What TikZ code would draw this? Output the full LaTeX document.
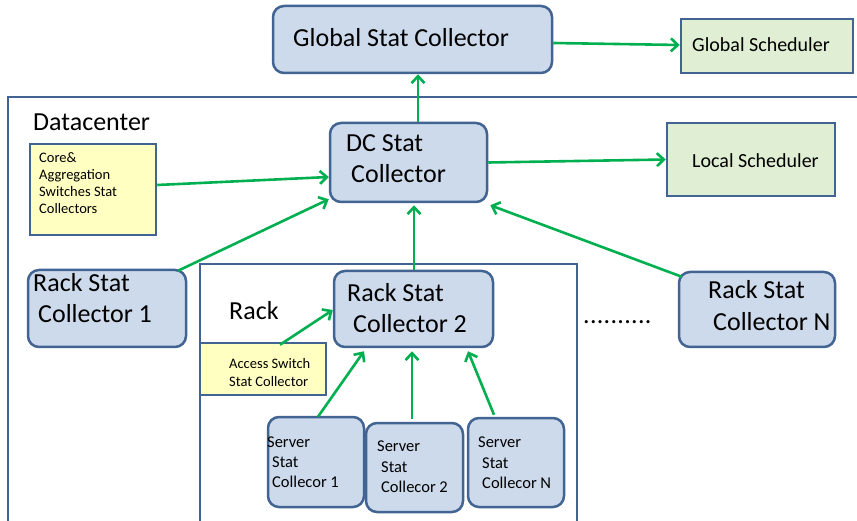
\documentclass[tikz,border=0pt]{standalone}
\usepackage{fontspec}
\setmainfont{Carlito}
\usetikzlibrary{arrows.meta,calc}
\definecolor{bfill}{RGB}{205,218,235}
\definecolor{bline}{RGB}{66,100,146}
\definecolor{gfill}{RGB}{224,238,212}
\definecolor{yfill}{RGB}{255,255,194}
\definecolor{arrg}{RGB}{0,176,80}
\begin{document}
\begin{tikzpicture}[x=1pt,y=-1pt,
  bluebox/.style={draw=bline,line width=2.5pt,fill=bfill,rounded corners=11pt,inner sep=0pt},
  greenbox/.style={draw=bline,line width=2.5pt,fill=gfill,inner sep=0pt},
  yelbox/.style={draw=bline,line width=2.5pt,fill=yfill,inner sep=0pt},
  frameline/.style={draw=bline,line width=2.5pt},
  arr/.style={draw=arrg,line width=2.6pt,-{Straight Barb[length=7pt,width=13pt,line width=2.6pt]}},
  big/.style={anchor=base west,inner sep=0pt,font=\fontsize{26}{30}\selectfont},
  mid/.style={anchor=base west,inner sep=0pt,font=\fontsize{20}{24}\selectfont},
  srv/.style={anchor=base west,inner sep=0pt,font=\fontsize{16.5}{20}\selectfont},
  small/.style={anchor=base west,inner sep=0pt,font=\fontsize{14.5}{17}\selectfont}]
\useasboundingbox (0,0) rectangle (857,521);
\fill[white] (0,0) rectangle (857,521);
% frames
\draw[frameline] (857,97) -- (8,97) -- (8,523);
\draw[frameline] (200,523) -- (200,264) -- (577,264) -- (577,523);
% boxes
\node[bluebox,minimum width=279,minimum height=67] (gsc) at (412.5,39.5) {};
\node[greenbox,minimum width=172,minimum height=54] (gs) at (767,46) {};
\node[yelbox,minimum width=126,minimum height=91] (core) at (93,189.5) {};
\node[bluebox,minimum width=157,minimum height=79] (dc) at (408.5,162.5) {};
\node[greenbox,minimum width=168,minimum height=73] (ls) at (751,159.5) {};
\node[bluebox,minimum width=158,minimum height=77] (r1) at (107,308.5) {};
\node[bluebox,minimum width=159,minimum height=76] (r2) at (413.5,309) {};
\node[bluebox,minimum width=156,minimum height=75] (rn) at (757,309.5) {};
\node[yelbox,minimum width=126,minimum height=52] (acc) at (263,369) {};
\node[bluebox,minimum width=96,minimum height=90] (s1) at (316,462) {};
\node[bluebox,minimum width=97,minimum height=89] (s2) at (414.5,467.5) {};
\node[bluebox,minimum width=96,minimum height=89] (sn) at (516,462.5) {};
% texts
\node[big] (tgsc) at (293,47) {Global Stat Collector};
\node[mid] (tgs) at (692,52) {Global Scheduler};
\node[mid] (tls) at (692,168) {Local Scheduler};
\node[big] (tdc) at (33,131) {Datacenter};
\node[small] (tc1) at (39,163) {Core\&};
\node[small] (tc2) at (39,180) {Aggregation};
\node[small] (tc3) at (39,197) {Switches Stat};
\node[small] (tc4) at (39,214) {Collectors};
\node[big] (tdc1) at (346,152) {DC Stat};
\node[big] (tdc2) at (351,183) {Collector};
\node[big] (tr11) at (33,292) {Rack Stat};
\node[big] (tr12) at (38,323) {Collector 1};
\node[big] (tr21) at (347,302) {Rack Stat};
\node[big] (tr22) at (353,333) {Collector 2};
\node[big] (trn1) at (708,299) {Rack Stat};
\node[big] (trn2) at (713,331) {Collector N};
\node[big] (track) at (229,320) {Rack};
\node[small] (ta1) at (229,369) {Access Switch};
\node[small] (ta2) at (229,386) {Stat Collector};
\node[big] (tdots) at (583,324) {.\hspace{0.3pt}.\hspace{0.3pt}.\hspace{0.3pt}.\hspace{0.3pt}.\hspace{0.3pt}.\hspace{0.3pt}.\hspace{0.3pt}.\hspace{0.3pt}.\hspace{0.3pt}.};
\node[srv] (ts11) at (267,447) {Server};
\node[srv] (ts12) at (272,467) {Stat};
\node[srv] (ts13) at (272,487) {Collecor 1};
\node[srv] (ts21) at (377,451) {Server};
\node[srv] (ts22) at (381,472) {Stat};
\node[srv] (ts23) at (381,492) {Collecor 2};
\node[srv] (tsn1) at (478,447) {Server};
\node[srv] (tsn2) at (482,468) {Stat};
\node[srv] (tsn3) at (482,488) {Collecor N};
% arrows
\draw[arr] ([yshift=-3.5pt]gsc.east) -- ([yshift=1pt]gs.west);
\draw[arr] ([xshift=9.5pt]dc.north) -- ([xshift=5.5pt]gsc.south);
\draw[arr] ([yshift=4.5pt]core.east) -- ([yshift=-14.5pt]dc.west);
\draw[arr] (dc.east) -- (ls.west);
\draw[arr] ([xshift=71pt,yshift=-2pt]r1.north) -- ([yshift=4pt]dc.south west);
\draw[arr] ([xshift=0.5pt]r2.north) -- ([xshift=5.5pt,yshift=-2pt]dc.south);
\draw[arr] ([xshift=4pt,yshift=-6pt]rn.north west) -- ([xshift=2pt,yshift=-2pt]dc.south east);
\draw[arr] ([xshift=17pt,yshift=-3pt]acc.north) -- ([yshift=-1pt]r2.west);
\draw[arr] ([xshift=2pt,yshift=-1pt]s1.north) -- ([xshift=-49.5pt,yshift=-3pt]r2.south);
\draw[arr] ([xshift=-2.5pt,yshift=3pt]s2.north) -- ([xshift=-1.5pt,yshift=-3pt]r2.south);
\draw[arr] ([xshift=-22pt,yshift=2pt]sn.north) -- ([xshift=54.5pt,yshift=-3pt]r2.south);
\end{tikzpicture}
\end{document}
